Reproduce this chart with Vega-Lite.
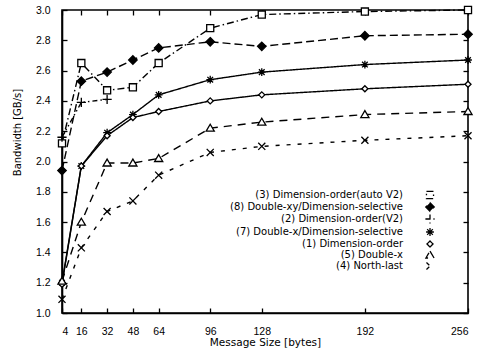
{
  "$schema": "https://vega.github.io/schema/vega-lite/v6.json",
  "width": 406,
  "height": 303,
  "autosize": "none",
  "padding": {"left": 62, "top": 10, "right": 16, "bottom": 43},
  "config": {
    "font": "Liberation Sans",
    "view": {"stroke": "black", "strokeWidth": 1.6},
    "axis": {
      "grid": false,
      "domainColor": "black",
      "domainWidth": 1.6,
      "tickColor": "black",
      "tickWidth": 1.3,
      "tickSize": -5,
      "labelColor": "black",
      "labelFontSize": 10.5,
      "titleColor": "black",
      "titleFont": "DejaVu Sans",
      "titleFontSize": 10.5,
      "titleFontWeight": "normal"
    },
    "legend": {
      "orient": "none",
      "legendX": 363,
      "legendY": 180,
      "labelAlign": "right",
      "labelOffset": -32,
      "labelFont": "DejaVu Sans",
      "labelFontSize": 10,
      "labelColor": "black",
      "labelLimit": 300,
      "rowPadding": -7.5,
      "symbolSize": 50,
      "symbolStrokeWidth": 1.3
    }
  },
  "data": {
    "values": [
      {"series": "(3) Dimension-order(auto V2)", "size": 4, "bw": 2.12},
      {"series": "(3) Dimension-order(auto V2)", "size": 16, "bw": 2.65},
      {"series": "(3) Dimension-order(auto V2)", "size": 32, "bw": 2.47},
      {"series": "(3) Dimension-order(auto V2)", "size": 48, "bw": 2.49},
      {"series": "(3) Dimension-order(auto V2)", "size": 64, "bw": 2.65},
      {"series": "(3) Dimension-order(auto V2)", "size": 96, "bw": 2.88},
      {"series": "(3) Dimension-order(auto V2)", "size": 128, "bw": 2.97},
      {"series": "(3) Dimension-order(auto V2)", "size": 192, "bw": 2.99},
      {"series": "(3) Dimension-order(auto V2)", "size": 256, "bw": 3.0},
      {"series": "(8) Double-xy/Dimension-selective", "size": 4, "bw": 1.94},
      {"series": "(8) Double-xy/Dimension-selective", "size": 16, "bw": 2.53},
      {"series": "(8) Double-xy/Dimension-selective", "size": 32, "bw": 2.59},
      {"series": "(8) Double-xy/Dimension-selective", "size": 48, "bw": 2.67},
      {"series": "(8) Double-xy/Dimension-selective", "size": 64, "bw": 2.75},
      {"series": "(8) Double-xy/Dimension-selective", "size": 96, "bw": 2.79},
      {"series": "(8) Double-xy/Dimension-selective", "size": 128, "bw": 2.76},
      {"series": "(8) Double-xy/Dimension-selective", "size": 192, "bw": 2.83},
      {"series": "(8) Double-xy/Dimension-selective", "size": 256, "bw": 2.84},
      {"series": "(2) Dimension-order(V2)", "size": 4, "bw": 2.16},
      {"series": "(2) Dimension-order(V2)", "size": 16, "bw": 2.39},
      {"series": "(2) Dimension-order(V2)", "size": 32, "bw": 2.41},
      {"series": "(7) Double-x/Dimension-selective", "size": 4, "bw": 1.2},
      {"series": "(7) Double-x/Dimension-selective", "size": 16, "bw": 1.97},
      {"series": "(7) Double-x/Dimension-selective", "size": 32, "bw": 2.19},
      {"series": "(7) Double-x/Dimension-selective", "size": 48, "bw": 2.31},
      {"series": "(7) Double-x/Dimension-selective", "size": 64, "bw": 2.44},
      {"series": "(7) Double-x/Dimension-selective", "size": 96, "bw": 2.54},
      {"series": "(7) Double-x/Dimension-selective", "size": 128, "bw": 2.59},
      {"series": "(7) Double-x/Dimension-selective", "size": 192, "bw": 2.64},
      {"series": "(7) Double-x/Dimension-selective", "size": 256, "bw": 2.67},
      {"series": "(1) Dimension-order", "size": 4, "bw": 1.19},
      {"series": "(1) Dimension-order", "size": 16, "bw": 1.97},
      {"series": "(1) Dimension-order", "size": 32, "bw": 2.17},
      {"series": "(1) Dimension-order", "size": 48, "bw": 2.29},
      {"series": "(1) Dimension-order", "size": 64, "bw": 2.33},
      {"series": "(1) Dimension-order", "size": 96, "bw": 2.4},
      {"series": "(1) Dimension-order", "size": 128, "bw": 2.44},
      {"series": "(1) Dimension-order", "size": 192, "bw": 2.48},
      {"series": "(1) Dimension-order", "size": 256, "bw": 2.51},
      {"series": "(5) Double-x", "size": 4, "bw": 1.21},
      {"series": "(5) Double-x", "size": 16, "bw": 1.6},
      {"series": "(5) Double-x", "size": 32, "bw": 1.99},
      {"series": "(5) Double-x", "size": 48, "bw": 1.99},
      {"series": "(5) Double-x", "size": 64, "bw": 2.02},
      {"series": "(5) Double-x", "size": 96, "bw": 2.22},
      {"series": "(5) Double-x", "size": 128, "bw": 2.26},
      {"series": "(5) Double-x", "size": 192, "bw": 2.31},
      {"series": "(5) Double-x", "size": 256, "bw": 2.33},
      {"series": "(4) North-last", "size": 4, "bw": 1.09},
      {"series": "(4) North-last", "size": 16, "bw": 1.43},
      {"series": "(4) North-last", "size": 32, "bw": 1.67},
      {"series": "(4) North-last", "size": 48, "bw": 1.74},
      {"series": "(4) North-last", "size": 64, "bw": 1.91},
      {"series": "(4) North-last", "size": 96, "bw": 2.06},
      {"series": "(4) North-last", "size": 128, "bw": 2.1},
      {"series": "(4) North-last", "size": 192, "bw": 2.14},
      {"series": "(4) North-last", "size": 256, "bw": 2.17}
    ]
  },
  "layer": [
    {
      "mark": {"type": "line", "color": "black", "strokeWidth": 1.4},
      "encoding": {
        "x": {
          "field": "size", "type": "quantitative",
          "scale": {"domain": [4, 256], "nice": false, "zero": false},
          "axis": {
            "values": [4, 16, 32, 48, 64, 96, 128, 192, 256],
            "title": "Message Size [bytes]",
            "labelPadding": 18,
            "titlePadding": 1
          }
        },
        "y": {
          "field": "bw", "type": "quantitative",
          "scale": {"domain": [1, 3], "nice": false, "zero": false},
          "axis": {
            "values": [1, 1.2, 1.4, 1.6, 1.8, 2, 2.2, 2.4, 2.6, 2.8, 3],
            "format": ".1f",
            "title": "Bandwidth [GB/s]",
            "titleFontSize": 10,
            "labelPadding": 17,
            "titleX": -45,
            "titleY": 122,
            "titleBaseline": "middle",
            "titleAlign": "center"
          }
        },
        "strokeDash": {
          "field": "series", "type": "nominal",
          "scale": {
            "domain": ["(3) Dimension-order(auto V2)", "(8) Double-xy/Dimension-selective", "(2) Dimension-order(V2)", "(7) Double-x/Dimension-selective", "(1) Dimension-order", "(5) Double-x", "(4) North-last"],
            "range": [[7, 3, 1.5, 3], [8, 4], [5, 3, 1.5, 3, 1.5, 3], [1, 0], [1, 0], [8, 6], [4, 7]]
          },
          "legend": {"title": null}
        }
      }
    },
    {
      "mark": {"type": "point", "stroke": "black", "strokeWidth": 1.3, "opacity": 1, "size": 50},
      "encoding": {
        "x": {
          "field": "size", "type": "quantitative",
          "axis": {
            "orient": "top", "labels": false, "title": null, "domain": false,
            "values": [4, 16, 32, 48, 64, 96, 128, 192, 256]
          }
        },
        "y": {
          "field": "bw", "type": "quantitative",
          "axis": {
            "orient": "right", "labels": false, "title": null, "domain": false,
            "values": [1, 1.2, 1.4, 1.6, 1.8, 2, 2.2, 2.4, 2.6, 2.8, 3]
          }
        },
        "shape": {
          "field": "series", "type": "nominal",
          "scale": {
            "domain": ["(3) Dimension-order(auto V2)", "(8) Double-xy/Dimension-selective", "(2) Dimension-order(V2)", "(7) Double-x/Dimension-selective", "(1) Dimension-order", "(5) Double-x", "(4) North-last"],
            "range": [
              "M-1,-1H1V1H-1Z",
              "M0,-1.2L1.2,0L0,1.2L-1.2,0Z",
              "M-1.3,0H1.3M0,-1.3V1.3",
              "M-1.1,0H1.1M0,-1.1V1.1M-0.8,-0.8L0.8,0.8M-0.8,0.8L0.8,-0.8",
              "M0,-0.85L0.85,0L0,0.85L-0.85,0Z",
              "M0,-1.1L1.15,0.85H-1.15Z",
              "M-1,-1L1,1M-1,1L1,-1"
            ]
          },
          "legend": {"title": null}
        },
        "fill": {
          "field": "series", "type": "nominal",
          "scale": {
            "domain": ["(3) Dimension-order(auto V2)", "(8) Double-xy/Dimension-selective", "(2) Dimension-order(V2)", "(7) Double-x/Dimension-selective", "(1) Dimension-order", "(5) Double-x", "(4) North-last"],
            "range": ["white", "black", "white", "white", "white", "white", "white"]
          },
          "legend": {"title": null}
        }
      }
    }
  ],
  "resolve": {"axis": {"x": "independent", "y": "independent"}}
}
